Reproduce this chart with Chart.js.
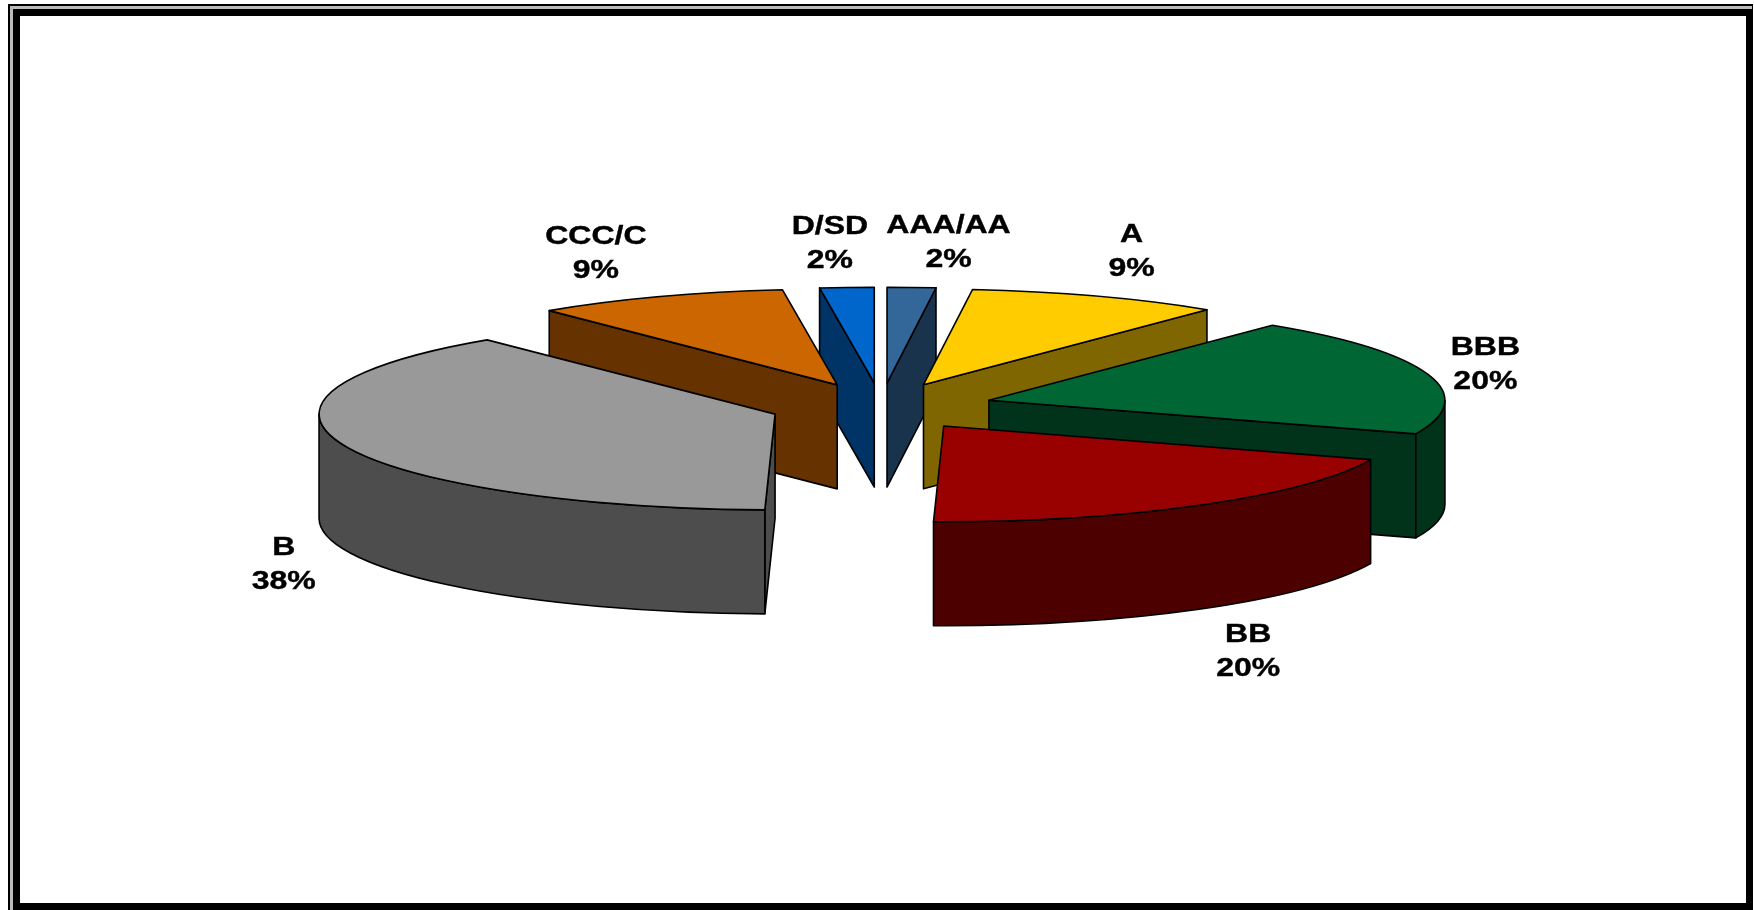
<!DOCTYPE html>
<html>
<head>
<meta charset="utf-8">
<style>
html,body{margin:0;padding:0;background:#fff;}
#wrap{position:relative;width:1754px;height:910px;}
canvas{display:block;}
</style>
<script src="https://cdn.jsdelivr.net/npm/chart.js@4"></script>
</head>
<body>
<div id="wrap"><canvas id="c" width="1754" height="910"></canvas></div>
<script>
const categories = ["AAA/AA","A","BBB","BB","B","CCC/C","D/SD"];
const shareValues = [1.7,8.9,19.9,19.5,38.49,8.9,1.9];
const topColors = ["#336699","#FFCC00","#006633","#990000","#999999","#CC6600","#0066CC"];
const wallColors = ["#1A334D","#806600","#00331A","#4D0000","#4D4D4D","#663300","#003366"];
const paintOrder = [0,6,1,5,2,4,3];
const labelNudges = [[37,-45],[35,-44],[57,-10],[49,147],[-60,120],[-63,-43],[-17,-44]];

const PIE_RADIUS = 456, EXPLODE = 112, TILT = 0.21, DEPTH = 104;

const framePlugin = {
  id:'frame',
  beforeDraw(chart){
    const c = chart.ctx;
    c.save();
    c.fillStyle='#fff'; c.fillRect(0,0,1754,910);
    c.fillStyle='#000'; c.fillRect(8,4,1746,906);
    c.fillStyle='#bbb'; c.fillRect(10,6,1742,904);
    c.fillStyle='#000'; c.fillRect(13,9,1740,901);
    c.fillStyle='#fff'; c.fillRect(20,16,1726,887);
    c.fillStyle='#fff'; c.fillRect(1753,0,1,910);
    c.restore();
  }
};

const pie3d = {
  id:'pie3d',
  beforeDatasetsDraw(chart){
    const c = chart.ctx;
    const arcs = chart.getDatasetMeta(0).data;
    for (const i of paintOrder){
      const arc = arcs[i];
      const a = arc.startAngle, b = arc.endAngle, m = (a+b)/2, R = arc.outerRadius;
      const ex = arc.x + EXPLODE*Math.cos(m), ey = arc.y + EXPLODE*Math.sin(m)*TILT;
      const rim = t => [ex + R*Math.cos(t), ey + R*Math.sin(t)*TILT];
      c.save();
      c.lineWidth = 1.6; c.strokeStyle = '#000'; c.lineJoin='round';
      c.fillStyle = wallColors[i];
      const face = t => {
        const p = rim(t);
        c.beginPath();
        c.moveTo(ex,ey); c.lineTo(p[0],p[1]); c.lineTo(p[0],p[1]+DEPTH); c.lineTo(ex,ey+DEPTH); c.closePath();
        c.fill(); c.stroke();
      };
      if (Math.cos(a) < -1e-6) face(a);
      if (Math.cos(b) > 1e-6) face(b);
      const t0 = Math.max(a,0), t1 = Math.min(b,Math.PI);
      if (t1 > t0){
        c.beginPath();
        c.ellipse(ex,ey,R,R*TILT,0,t0,t1);
        c.ellipse(ex,ey+DEPTH,R,R*TILT,0,t1,t0,true);
        c.closePath(); c.fill(); c.stroke();
      }
      // top face: the library's own arc element, tilted
      c.save();
      c.translate(arc.x,arc.y); c.scale(1,TILT); c.translate(-arc.x,-arc.y);
      c.translate(EXPLODE*Math.cos(m),EXPLODE*Math.sin(m));
      arc.draw(c);
      c.restore();
      c.beginPath();
      c.moveTo(ex,ey);
      c.ellipse(ex,ey,R,R*TILT,0,a,b);
      c.closePath(); c.stroke();
      c.restore();
    }
    // labels
    c.save();
    c.fillStyle='#000'; c.strokeStyle='#000'; c.lineWidth=0.4; c.textAlign='center'; c.textBaseline='middle';
    c.font='bold 26px "Liberation Sans"';
    c.fontKerning='normal';
    arcs.forEach((arc,i)=>{
      const m=(arc.startAngle+arc.endAngle)/2, r=arc.outerRadius+EXPLODE;
      const lx=arc.x+r*Math.cos(m)+labelNudges[i][0], ly=arc.y+r*Math.sin(m)*TILT+labelNudges[i][1];
      c.save();
      c.translate(lx,ly); c.scale(1.23,1);
      c.fillText(categories[i],0,-17); c.strokeText(categories[i],0,-17);
      const pct=Math.round(shareValues[i])+'%';
      c.fillText(pct,0,17); c.strokeText(pct,0,17);
      c.restore();
    });
    c.restore();
    return false;
  }
};

new Chart(document.getElementById('c'),{
  type:'pie',
  data:{labels:categories,datasets:[{data:shareValues,backgroundColor:topColors,borderWidth:0}]},
  options:{
    responsive:false,animation:false,radius:PIE_RADIUS,
    layout:{padding:{left:8,bottom:97}},
    plugins:{legend:{display:false},tooltip:{enabled:false}}
  },
  plugins:[framePlugin,pie3d]
});
</script>
</body>
</html>
